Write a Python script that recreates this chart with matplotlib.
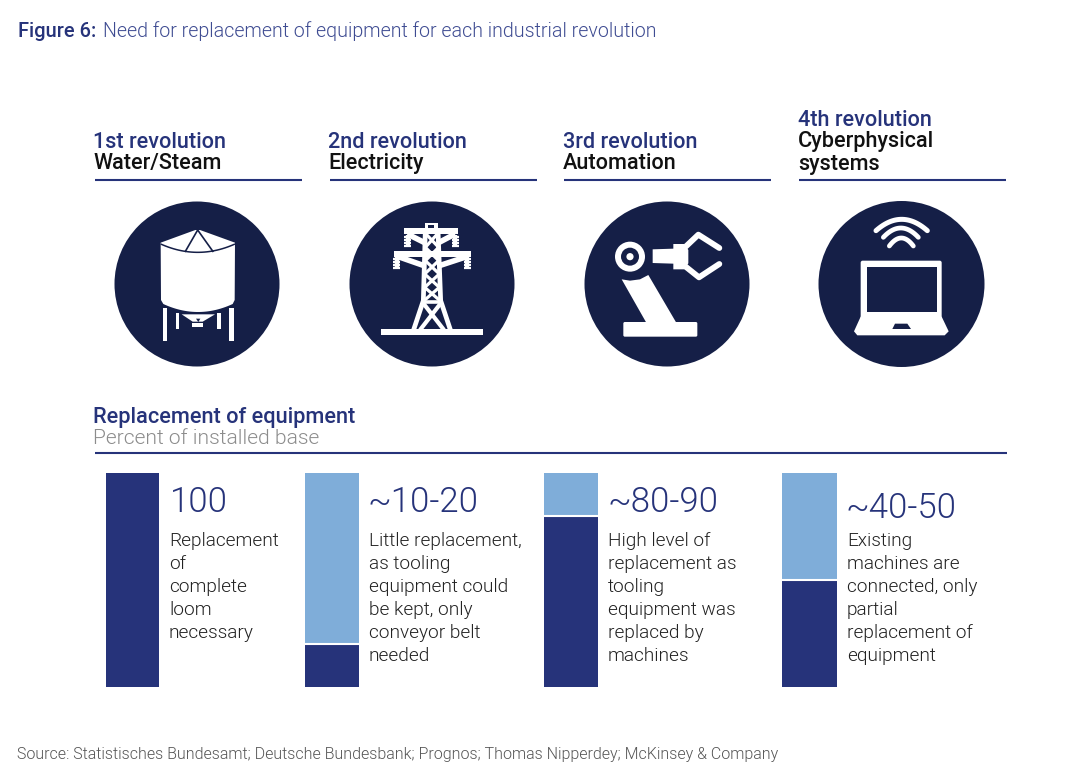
import numpy as np
import matplotlib
matplotlib.use('Agg')
from matplotlib import pyplot as plt
from matplotlib.patches import Circle, Polygon, FancyBboxPatch

plt.rcParams['font.family'] = ['Roboto', 'Liberation Sans', 'DejaVu Sans']

NAVY = '#151f47'
BLUE = '#26337a'
LIGHT = '#7fadd9'
GREY = '#8c8c8c'
TEXT = '#222222'

revolutions = ['1st revolution', '2nd revolution', '3rd revolution', '4th revolution']
drivers = ['Water/Steam', 'Electricity', 'Automation', 'Cyberphysical\nsystems']
ranges = ['100', '~10-20', '~80-90', '~40-50']
replaced = [100, 20, 80, 50]
notes = ['Replacement\nof\ncomplete\nloom\nnecessary',
         'Little replacement,\nas tooling\nequipment could\nbe kept, only\nconveyor belt\nneeded',
         'High level of\nreplacement as\ntooling\nequipment was\nreplaced by\nmachines',
         'Existing\nmachines are\nconnected, only\npartial\nreplacement of\nequipment']

fig = plt.figure(figsize=(10.8, 7.79), dpi=100)
ax = fig.add_axes([0, 0, 1, 1])
ax.set_xlim(0, 1080)
ax.set_ylim(779, 0)
ax.axis('off')

# header
ax.text(18, 31, 'Figure 6:', color=BLUE, fontsize=14.4, fontweight=500, va='center')
ax.text(103, 31, 'Need for replacement of equipment for each industrial revolution',
        color='#3f4c92', fontsize=14.1, va='center', fontweight=300)

# column headers
head = dict(fontsize=15.6, fontweight=500, va='center')
head_x = [93, 328, 563, 798]
rule_x = [(95, 302), (330, 537), (564, 771), (799, 1006)]
for i in range(4):
    if i < 3:
        ax.text(head_x[i], 142, revolutions[i], color=BLUE, **head)
        ax.text(head_x[i], 163, drivers[i], color='#111111', **head)
    else:
        ax.text(head_x[i], 120, revolutions[i], color=BLUE, **head)
        ax.text(head_x[i], 141, 'Cyberphysical', color='#111111', **head)
        ax.text(head_x[i], 164, 'systems', color='#111111', **head)
    ax.plot(rule_x[i], [179.5, 179.5], color=BLUE, lw=1.5, solid_capstyle='butt')


def crop(pts, ox, oy):
    return [(ox + p[0] / 3, oy + p[1] / 3) for p in pts]


def poly(pts, ox, oy, color='white'):
    ax.add_patch(Polygon(crop(pts, ox, oy), closed=True, fc=color, ec='none'))


def box(x0, y0, x1, y1, ox, oy, color='white'):
    poly([(x0, y0), (x1, y0), (x1, y1), (x0, y1)], ox, oy, color)


def stroke(pts, ox, oy, lw, color='white', cap='butt'):
    p = np.array(crop(pts, ox, oy))
    ax.plot(p[:, 0], p[:, 1], color=color, lw=lw, solid_capstyle=cap, solid_joinstyle='round')


def bow(x0, x1, y_end, y_top, n=30):
    # shallow arc through two ends and a middle point
    x = np.linspace(x0, x1, n)
    mid = (x0 + x1) / 2
    return list(zip(x, y_top + (y_end - y_top) * ((x - mid) / (x1 - mid)) ** 2))


for cx, cy, r in [(197, 284, 82.5), (432, 284, 82.5), (667, 284, 82.5), (901.5, 284, 83)]:
    ax.add_patch(Circle((cx, cy), r, fc=NAVY, ec='none'))

# silo
ox, oy = 150, 220
poly([(32, 68), (136, 30), (150, 30), (255, 68), (254, 240), (248, 252)] + bow(40, 248, 252, 276)[::-1]
     + [(33, 240)], ox, oy)
stroke(bow(32, 255, 72, 97), ox, oy, 1.1, NAVY)
stroke([(105, 96), (143, 30), (190, 96)], ox, oy, 1.2, NAVY)
box(38, 264, 50, 362, ox, oy)
box(238, 264, 252, 362, ox, oy)
box(78, 280, 86, 328, ox, oy)
box(200, 280, 212, 328, ox, oy)
poly([(95, 283), (195, 283), (158, 305), (128, 305)], ox, oy)
box(125, 308, 160, 322, ox, oy)
poly([(138, 296), (151, 296), (145, 306)], ox, oy, NAVY)

# pylon
ox, oy = 370, 210
box(32, 358, 340, 374, ox, oy)
box(165, 38, 203, 62, ox, oy)
box(175, 45, 192, 53, ox, oy, NAVY)
box(102, 55, 265, 72, ox, oy)
box(72, 122, 302, 140, ox, oy)
stroke([(112, 72), (168, 100)], ox, oy, 4.0)
stroke([(255, 72), (202, 100)], ox, oy, 4.0)
stroke([(85, 140), (165, 168)], ox, oy, 4.0)
stroke([(290, 140), (205, 168)], ox, oy, 4.0)
stroke([(166, 60), (160, 272), (130, 362)], ox, oy, 3.4)
stroke([(204, 60), (212, 272), (242, 362)], ox, oy, 3.4)
stroke([(168, 72), (206, 112), (166, 152), (208, 192), (164, 232), (210, 272)], ox, oy, 2.3)
stroke([(202, 72), (166, 112), (206, 152), (164, 192), (208, 232), (162, 272)], ox, oy, 2.3)
stroke([(158, 276), (214, 276)], ox, oy, 2.6)
stroke([(160, 280), (222, 360)], ox, oy, 3.0)
stroke([(212, 280), (150, 360)], ox, oy, 3.0)
for x, y0 in [(113, 74), (256, 74), (80, 142), (292, 142)]:
    stroke([(x, y0), (x, y0 + 34)], ox, oy, 3.2)
    for k in range(4):
        stroke([(x - 11, y0 + 6 + k * 9), (x + 11, y0 + 6 + k * 9)], ox, oy, 1.6)

# robot arm
ox, oy = 605, 220
hub = crop([(75, 110)], ox, oy)[0]
ax.add_patch(Circle(hub, 15, fc='white', ec='none'))
ax.add_patch(Circle(hub, 9, fc=NAVY, ec='none'))
ax.add_patch(Circle(hub, 3.6, fc='white', ec='none'))
poly([(143, 88), (205, 86), (205, 72), (238, 72), (250, 90), (250, 130), (238, 148),
      (205, 148), (205, 131), (143, 129)], ox, oy)
stroke([(242, 80), (280, 44), (343, 84)], ox, oy, 4.2, cap='round')
stroke([(242, 140), (282, 172), (343, 132)], ox, oy, 4.2, cap='round')
poly([(50, 178), (75, 182), (105, 178), (130, 165), (215, 310), (125, 310)], ox, oy)
ax.add_patch(FancyBboxPatch((ox + 55 / 3, oy + 306 / 3), 222 / 3, 44 / 3,
                            boxstyle='round,pad=0,rounding_size=1.5', fc='white', ec='none'))

# laptop
ox, oy = 850, 210
ax.add_patch(FancyBboxPatch((ox + 32 / 3, oy + 152 / 3), 243 / 3, 180 / 3,
                            boxstyle='round,pad=0,rounding_size=2', fc='white', ec='none'))
box(50, 170, 260, 306, ox, oy, NAVY)
poly([(32, 320), (275, 320), (296, 364), (284, 376), (22, 376), (12, 364)], ox, oy)
poly([(135, 341), (172, 341), (183, 357), (127, 357)], ox, oy, NAVY)
stroke(bow(78, 232, 62, 28), ox, oy, 3.6, cap='round')
stroke(bow(100, 205, 82, 54), ox, oy, 3.4, cap='round')
stroke(bow(118, 190, 108, 84), ox, oy, 3.4, cap='round')

# lower section
ax.text(93, 417, 'Replacement of equipment', color=BLUE, fontsize=15.7, fontweight=500, va='center')
ax.text(93, 438, 'Percent of installed base', color=GREY, fontsize=15.1, va='center', fontweight=300)
ax.plot([95, 1007], [452.5, 452.5], color=BLUE, lw=1.5, solid_capstyle='butt')

# stacked bars share one axes scaled in percent
bar_ax = fig.add_axes([0, 1 - 686.5 / 779, 1, 213.5 / 779])
bar_ax.set_xlim(0, 1080)
bar_ax.set_ylim(0, 100)
bar_ax.axis('off')
bar_left = [106, 305, 544, 782]
bar_width = [53, 54, 54, 55]
rest = [100 - v for v in replaced]
bar_ax.bar(bar_left, replaced, width=bar_width, align='edge', color=BLUE, linewidth=0)
bar_ax.bar(bar_left, rest, bottom=replaced, width=bar_width, align='edge', color=LIGHT, linewidth=0)
for i in range(1, 4):
    bar_ax.plot([bar_left[i], bar_left[i] + bar_width[i]], [replaced[i], replaced[i]], color='white', lw=1.5)

range_x = [170, 368, 608, 846]
range_y = [502, 502, 502, 508]
note_x = [169, 369, 608, 847]
for i in range(4):
    ax.text(range_x[i], range_y[i], ranges[i], color=BLUE, fontsize=25, va='center', fontweight=300)
    for k, line in enumerate(notes[i].split('\n')):
        ax.text(note_x[i], 541 + k * 23, line, color=TEXT, fontsize=13.7, va='center', fontweight=300)

ax.text(17, 754, 'Source: Statistisches Bundesamt; Deutsche Bundesbank; Prognos; Thomas Nipperdey; McKinsey & Company',
        color='#555555', fontsize=11.55, va='center', fontweight=300)

fig.savefig('out.png', dpi=100)
